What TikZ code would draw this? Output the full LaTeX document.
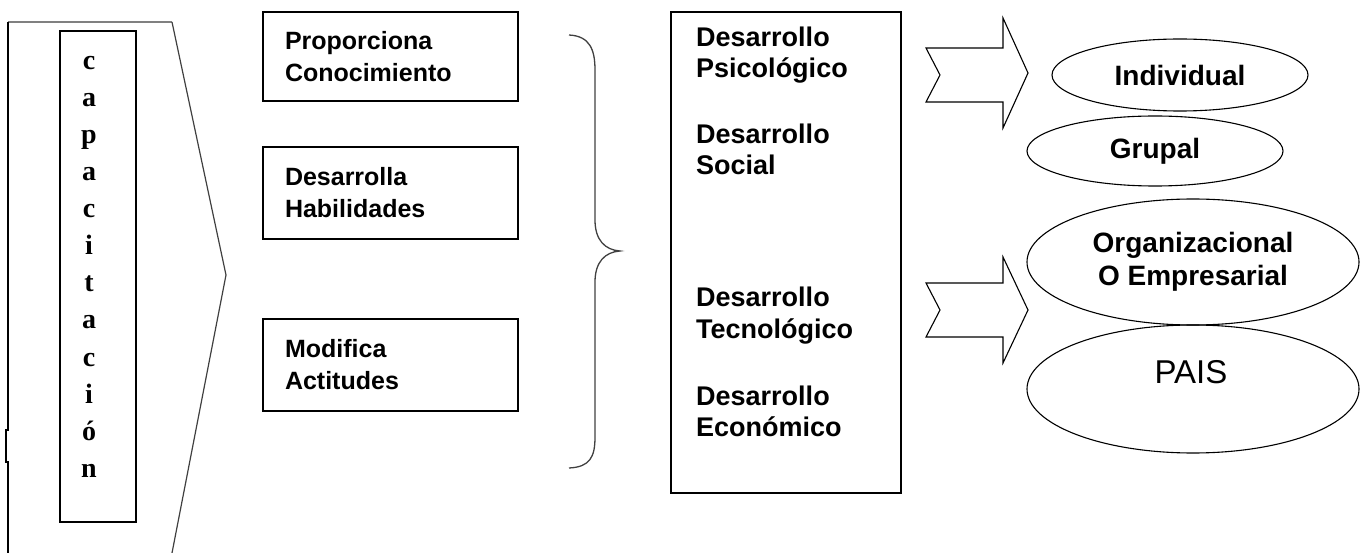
\documentclass[tikz,border=0pt]{standalone}
\usepackage{fontspec}
\setmainfont{Liberation Sans}
\newfontfamily\letterfont{Liberation Serif}
\usetikzlibrary{shapes.geometric}

\tikzset{
  textbox/.style={rectangle, draw, line width=1.4pt, text width=211pt, inner xsep=22pt, align=left, font=\fontsize{25}{32}\selectfont\bfseries},
  midtext/.style={anchor=base west, inner sep=0pt, font=\fontsize{27}{31}\selectfont\bfseries},
  oval/.style={ellipse, draw, line width=1.1pt, inner sep=0pt, align=center, font=\fontsize{28}{33}\selectfont\bfseries},
  blockarrow/.style={draw, line width=1.1pt, line join=miter},
  letter/.style={anchor=base, inner sep=0pt, font=\fontsize{28}{28}\letterfont\bfseries},
}

\begin{document}
\begin{tikzpicture}[x=1pt,y=-1pt]
\useasboundingbox (0,0) rectangle (1368,553);

    \draw[gray, line width=2pt] (8,22) -- (172,22);
    \draw[line width=1.3pt] (8,22) -- (8,430) -- (6,430) -- (6,462) -- (8,462) -- (8,553);
    \draw[line width=1.2pt, black!75] (172,22) -- (226,275) -- (172,553);
    \node (capbox) at (98,276.5) [draw, line width=1.3pt, minimum width=76pt, minimum height=491pt] {};
    \foreach \l [count=\i from 0] in {c,a,p,a,c,i,t,a,c,i,ó,n}
        \node (cap\i) at (89,{70+37*\i}) [letter] {\l};

    \node (conoc) at (390.5,56.5) [textbox, minimum height=89pt] {Proporciona\\Conocimiento};
    \node (habil) at (390.5,193) [textbox, minimum height=92pt] {Desarrolla\\Habilidades};
    \node (actit) at (390.5,365) [textbox, minimum height=92pt] {Modifica\\Actitudes};

    \draw[line width=1.3pt, black!75] (569,35) .. controls (590,36) and (595,50) .. (595,70) -- (595,220)
        .. controls (595,240) and (605,250) .. (620,251)
        .. controls (605,252) and (595,262) .. (595,282) -- (595,437)
        .. controls (595,457) and (590,467) .. (569,468);

    \node (desbox) at (786,252.5) [draw, line width=1.4pt, minimum width=230pt, minimum height=481pt] {};
    \foreach \name/\second/\y in {psico/Psicológico/47, social/Social/144, tecno/Tecnológico/307, econo/Económico/405} {
        \node (\name a) at (696,\y) [midtext] {Desarrollo};
        \node (\name b) at (696,{\y+31}) [midtext] {\second};
    }

    \draw[blockarrow] (926,48) -- (1003,48) -- (1003,18) -- (1028,73) -- (1003,128) -- (1003,102) -- (926,102) -- (940,75) -- cycle;
    \draw[blockarrow] (926,283) -- (1003,283) -- (1003,257) -- (1028,310) -- (1003,363) -- (1003,337) -- (926,337) -- (940,310) -- cycle;

    \node (indiv) at (1180,75) [oval, minimum width=256pt, minimum height=72pt] {Individual};
    \node (grupal) at (1155,151) [oval, minimum width=256pt, minimum height=70pt] {Grupal};
    \node (organ) at (1193,262) [oval, minimum width=332pt, minimum height=126pt] {Organizacional\\O Empresarial};
    \node (pais) at (1193,389) [oval, minimum width=332pt, minimum height=128pt] {};
    \node (paistext) at (1191,372) [inner sep=0pt, font=\fontsize{33}{33}\selectfont] {PAIS};

\end{tikzpicture}
\end{document}
